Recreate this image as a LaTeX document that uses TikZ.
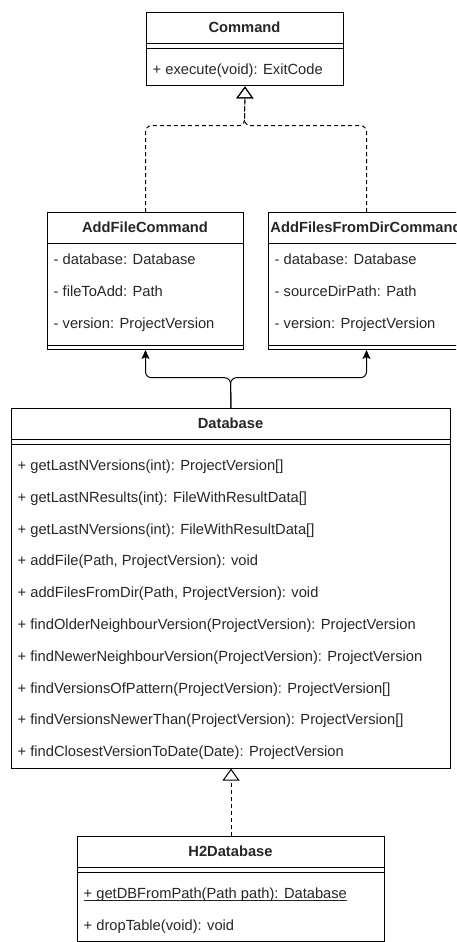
\documentclass[tikz,border=0pt]{standalone}
\usepackage{fontspec}
\setmainfont{Liberation Sans}
\usetikzlibrary{arrows.meta}

\newcommand\staticmember[1]{\setbox0\hbox{#1}\rlap{\rule[-2pt]{\wd0}{0.8pt}}\box0}

\begin{document}
\begin{tikzpicture}[
  x=1pt, y=-1pt,
  every node/.style={font=\fontsize{14.7}{17}\selectfont, text=black!85},
  box/.style={draw, line width=1pt, anchor=north west, inner sep=0pt},
  classname/.style={anchor=base, inner sep=0pt, font=\fontsize{14.7}{17}\selectfont\bfseries},
  member/.style={anchor=base west, inner sep=0pt},
  divider/.style={line width=1pt},
  realize/.style={line width=1pt, dash pattern=on 4pt off 3pt, rounded corners=6pt, -{Triangle[open, length=12pt, width=17pt]}},
  assoc/.style={line width=1pt, rounded corners=6pt, -{Stealth[length=9pt, width=8pt, inset=2pt]}}
]
\useasboundingbox (0,0) rectangle (456,942);
\clip (0,0) rectangle (456,942);

% Command
\node[box, minimum width=197pt, minimum height=73.4pt] (cmd) at (146,12) {};
\draw[divider] ([yshift=-31.8pt]cmd.north west) -- ([yshift=-31.8pt]cmd.north east);
\draw[divider] ([yshift=-36.7pt]cmd.north west) -- ([yshift=-36.7pt]cmd.north east);
\node[classname] (cmd-name) at (244.5,32.9) {Command};
\node[member] (cmd-m1) at (152.5,74.5) {+ execute(void): ExitCode};

% AddFileCommand
\node[box, minimum width=196pt, minimum height=137pt] (addfile) at (47,212) {};
\draw[divider] ([yshift=-31.8pt]addfile.north west) -- ([yshift=-31.8pt]addfile.north east);
\draw[divider] ([yshift=4.9pt]addfile.south west) -- ([yshift=4.9pt]addfile.south east);
\node[classname] (addfile-name) at (145,232.9) {AddFileCommand};
\node[member] (addfile-a1) at (53.5,264.7) {- database: Database};
\node[member] (addfile-a2) at (53.5,296.5) {- fileToAdd: Path};
\node[member] (addfile-a3) at (53.5,328.3) {- version: ProjectVersion};

% AddFilesFromDirCommand
\node[box, minimum width=196pt, minimum height=137pt] (addfiles) at (268,212) {};
\draw[divider] ([yshift=-31.8pt]addfiles.north west) -- ([yshift=-31.8pt]addfiles.north east);
\draw[divider] ([yshift=4.9pt]addfiles.south west) -- ([yshift=4.9pt]addfiles.south east);
\node[classname] (addfiles-name) at (366,232.9) {AddFilesFromDirCommand};
\node[member] (addfiles-a1) at (274.5,264.7) {- database: Database};
\node[member] (addfiles-a2) at (274.5,296.5) {- sourceDirPath: Path};
\node[member] (addfiles-a3) at (274.5,328.3) {- version: ProjectVersion};

% Database
\node[box, minimum width=439pt, minimum height=359.6pt] (db) at (11,408) {};
\draw[divider] ([yshift=-31.8pt]db.north west) -- ([yshift=-31.8pt]db.north east);
\draw[divider] ([yshift=-36.7pt]db.north west) -- ([yshift=-36.7pt]db.north east);
\node[classname] (db-name) at (230.5,428.9) {Database};
\node[member] (db-m1) at (17.5,470.5) {+ getLastNVersions(int): ProjectVersion[]};
\node[member] (db-m2) at (17.5,502.3) {+ getLastNResults(int): FileWithResultData[]};
\node[member] (db-m3) at (17.5,534.1) {+ getLastNVersions(int): FileWithResultData[]};
\node[member] (db-m4) at (17.5,565.9) {+ addFile(Path, ProjectVersion): void};
\node[member] (db-m5) at (17.5,597.7) {+ addFilesFromDir(Path, ProjectVersion): void};
\node[member] (db-m6) at (17.5,629.5) {+ findOlderNeighbourVersion(ProjectVersion): ProjectVersion};
\node[member] (db-m7) at (17.5,661.3) {+ findNewerNeighbourVersion(ProjectVersion): ProjectVersion};
\node[member] (db-m8) at (17.5,693.1) {+ findVersionsOfPattern(ProjectVersion): ProjectVersion[]};
\node[member] (db-m9) at (17.5,724.9) {+ findVersionsNewerThan(ProjectVersion): ProjectVersion[]};
\node[member] (db-m10) at (17.5,756.7) {+ findClosestVersionToDate(Date): ProjectVersion};

% H2Database
\node[box, minimum width=307pt, minimum height=105.2pt] (h2db) at (77,836) {};
\draw[divider] ([yshift=-31.8pt]h2db.north west) -- ([yshift=-31.8pt]h2db.north east);
\draw[divider] ([yshift=-36.7pt]h2db.north west) -- ([yshift=-36.7pt]h2db.north east);
\node[classname] (h2db-name) at (230.5,856.9) {H2Database};
\node[member] (h2db-m1) at (83.5,898.5) {\staticmember{+ getDBFromPath(Path path): Database}};
\node[member] (h2db-m2) at (83.5,930.3) {+ dropTable(void): void};

% connectors
\coordinate (cmd-join) at (244.5,125.7);
\draw[realize] (addfile.north) |- (cmd-join) -- (cmd.south);
\draw[realize] (addfiles.north) |- (cmd-join) -- (cmd.south);

\coordinate (db-join) at (230.5,377.7);
\draw[assoc] (db.north) -- (db-join) -| (addfile.south);
\draw[assoc] (db.north) -- (db-join) -| (addfiles.south);

\draw[realize] (h2db.north) -- (db.south);
\end{tikzpicture}
\end{document}
